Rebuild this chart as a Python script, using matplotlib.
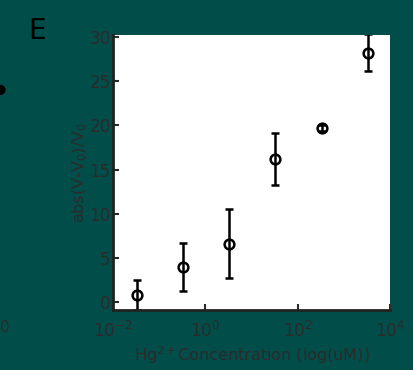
import numpy as np
import matplotlib.pyplot as plt

# data
conc = [0.033, 0.33, 3.3, 33, 330, 3300]
response = [0.8, 4.0, 6.6, 16.2, 19.7, 28.2]
err = [1.7, 2.7, 3.9, 2.9, 0.3, 2.1]
yticks = [0, 5, 10, 15, 20, 25, 30]

bg = '#004d4a'
txt = '#2b2b2b'

fig = plt.figure(figsize=(4.13, 3.70), dpi=100, facecolor=bg)
ax = fig.add_axes([0.274, 0.162, 0.670, 0.743])
ax.set_facecolor('white')

ax.errorbar(conc, response, yerr=err, fmt='o', mfc='none', mec='black',
            mew=1.8, ms=7, ecolor='black', elinewidth=1.8, capsize=3,
            capthick=1.8, color='black')

ax.set_xscale('log')
ax.set_xlim(1e-2, 1e4)
ax.set_ylim(-0.9, 30.2)
ax.set_xticks([1e-2, 1, 1e2, 1e4])
ax.set_yticks(yticks)

for s in ['top', 'right']:
    ax.spines[s].set_visible(False)
for s in ['left', 'bottom']:
    ax.spines[s].set_color('#222222')
    ax.spines[s].set_linewidth(2)

ax.tick_params(direction='in', colors=txt, labelsize=12, width=1.5,
               length=4, labelcolor=txt)
ax.tick_params(which='minor', direction='in', length=2.5, width=1.2,
               color='#222222')
ax.tick_params(axis='x', pad=8)
ax.tick_params(axis='y', pad=2)

ax.set_ylabel('abs(V-V$_0$)/V$_0$', color=txt, fontsize=11.5, labelpad=0)
ax.set_xlabel('Hg$^{2+}$Concentration (log(uM))', color=txt, fontsize=11.5,
              labelpad=2)

fig.text(0.09, 0.955, 'E', fontsize=20, color='black', ha='center',
         va='top')
# fragments of the neighbouring panel
fig.text(0.0, 0.115, '0', fontsize=11, color=txt, ha='left', va='center')
fig.add_artist(plt.Circle((0.0, 0.757), 0.012, transform=fig.transFigure,
                          color='black'))

fig.savefig('out.png', dpi=100, facecolor=bg)
